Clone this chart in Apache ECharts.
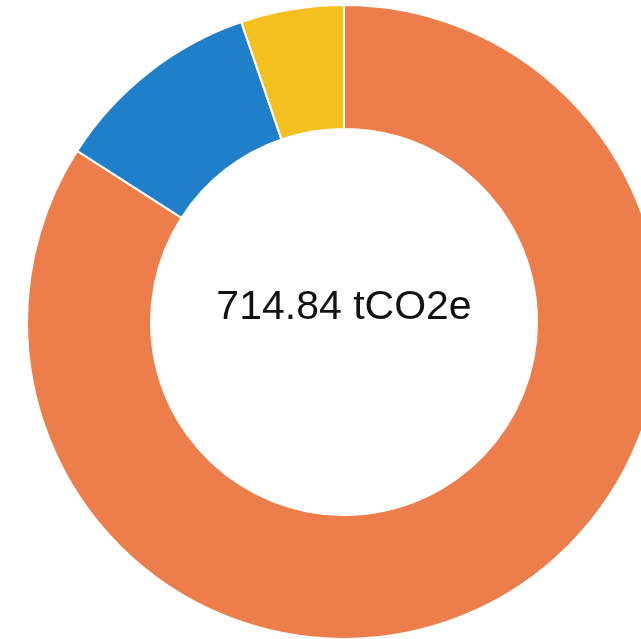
<!DOCTYPE html>
<html>
<head>
<meta charset="utf-8">
<script src="https://cdn.jsdelivr.net/npm/echarts@6/dist/echarts.min.js"></script>
<style>
html,body{margin:0;padding:0;background:#fff;}
#main{width:641px;height:639px;}
</style>
</head>
<body>
<div id="main"></div>
<script>
const categories = ['Category A', 'Category B', 'Category C'];
const values = [601.0, 76.3, 37.54];
const colors = ['#ED7D4A', '#1F7FC8', '#F4C020'];
const totalLabel = '714.84 tCO2e';

const chart = echarts.init(document.getElementById('main'), null, {renderer: 'canvas'});
chart.setOption({
  animation: false,
  backgroundColor: '#ffffff',
  graphic: [{
    type: 'text',
    x: 344,
    y: 308,
    style: {
      text: totalLabel,
      align: 'center',
      verticalAlign: 'middle',
      fontFamily: 'Liberation Sans, Arial, sans-serif',
      fontSize: 41,
      fill: '#111111'
    },
    z: 10
  }],
  series: [{
    type: 'pie',
    center: [344, 322],
    radius: [193, 317],
    startAngle: 90,
    clockwise: true,
    label: {show: false},
    labelLine: {show: false},
    emphasis: {disabled: true},
    itemStyle: {borderColor: '#ffffff', borderWidth: 2},
    data: categories.map((c, i) => ({name: c, value: values[i], itemStyle: {color: colors[i]}}))
  }]
});
</script>
</body>
</html>
